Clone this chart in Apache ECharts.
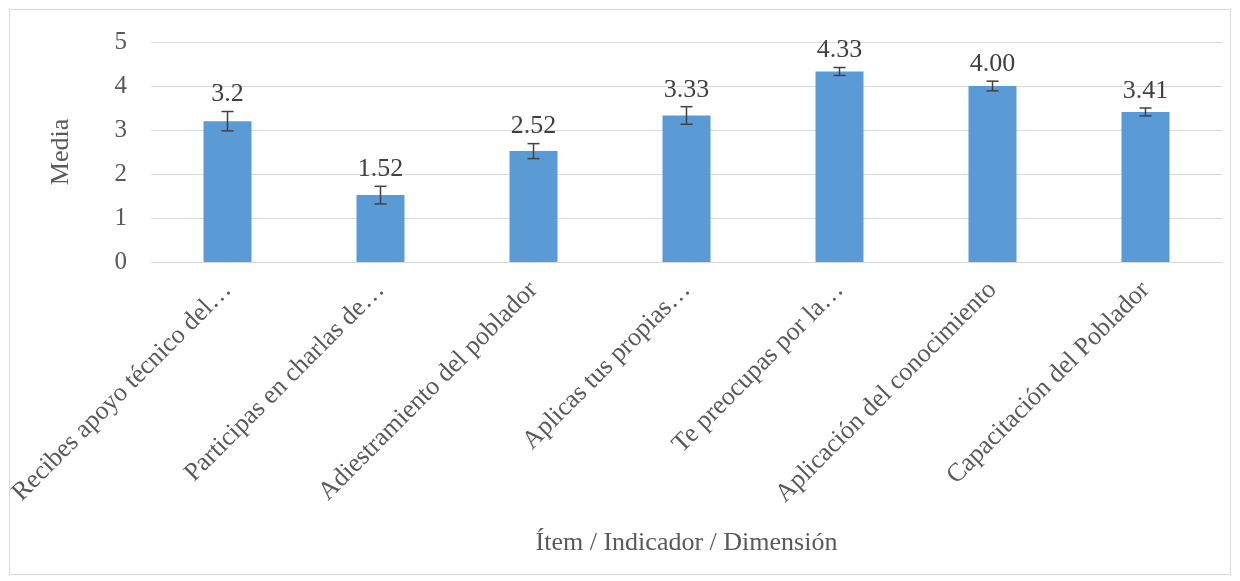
<!DOCTYPE html>
<html>
<head>
<meta charset="utf-8">
<script src="https://cdn.jsdelivr.net/npm/echarts@6/dist/echarts.min.js"></script>
<style>
  html, body { margin: 0; padding: 0; background: #fff; }
  #frame { position: absolute; left: 9px; top: 9px; width: 1222px; height: 566px; border: 1px solid #d9d9d9; box-sizing: border-box; }
  #chart { position: absolute; left: 0; top: 0; width: 1240px; height: 581px; }
</style>
</head>
<body>
<div id="frame"></div>
<div id="chart"></div>
<script>
// categories (truncated as in the original)
const categories = [
  'Recibes apoyo técnico del…',
  'Participas en charlas de…',
  'Adiestramiento del poblador',
  'Aplicas tus propias…',
  'Te preocupas por la…',
  'Aplicación del conocimiento',
  'Capacitación del Poblador'
];
const means = [3.2, 1.52, 2.52, 3.33, 4.33, 4.00, 3.41];
const meanLabels = ['3.2', '1.52', '2.52', '3.33', '4.33', '4.00', '3.41'];
// error bar half-widths
const errors = [0.22, 0.2, 0.17, 0.2, 0.09, 0.11, 0.09];
const yTicks = [0, 1, 2, 3, 4, 5];

const FONT = '"Liberation Serif", "Times New Roman", serif';

const errData = means.map((m, i) => [i, m - errors[i], m + errors[i]]);

const chart = echarts.init(document.getElementById('chart'));
chart.setOption({
  backgroundColor: 'transparent',
  animation: false,
  grid: { left: 151, right: 18, top: 42, bottom: 319 },
  xAxis: {
    type: 'category',
    data: categories,
    name: 'Ítem / Indicador / Dimensión',
    nameLocation: 'middle',
    nameGap: 268,
    nameTextStyle: { fontFamily: FONT, fontSize: 26, color: '#595959' },
    axisLine: { lineStyle: { color: '#d9d9d9', width: 1 } },
    axisTick: { show: false },
    axisLabel: { rotate: 45, interval: 0, margin: 24, fontFamily: FONT, fontSize: 26, color: '#595959' }
  },
  yAxis: {
    type: 'value',
    min: yTicks[0], max: yTicks[yTicks.length - 1], interval: 1,
    name: 'Media',
    nameLocation: 'middle',
    nameGap: 77,
    nameRotate: 90,
    nameTextStyle: { fontFamily: FONT, fontSize: 26, color: '#595959' },
    axisLine: { show: false },
    axisTick: { show: false },
    axisLabel: { margin: 24, fontFamily: FONT, fontSize: 25, color: '#595959' },
    splitLine: { lineStyle: { color: '#d9d9d9', width: 1 } }
  },
  series: [
    {
      type: 'bar',
      data: means,
      barWidth: 48,
      itemStyle: { color: '#5b9bd5' }
    },
    {
      type: 'custom',
      data: errData,
      z: 10,
      renderItem: (params, api) => {
        const x = api.value(0);
        const lo = api.coord([x, api.value(1)]);
        const hi = api.coord([x, api.value(2)]);
        const cap = 6;
        const style = { stroke: '#404040', lineWidth: 1.5 };
        return {
          type: 'group',
          children: [
            { type: 'line', shape: { x1: lo[0], y1: lo[1], x2: hi[0], y2: hi[1] }, style },
            { type: 'line', shape: { x1: lo[0] - cap, y1: lo[1], x2: lo[0] + cap, y2: lo[1] }, style },
            { type: 'line', shape: { x1: hi[0] - cap, y1: hi[1], x2: hi[0] + cap, y2: hi[1] }, style },
            {
              type: 'text',
              style: {
                x: hi[0], y: hi[1] - 4,
                text: meanLabels[params.dataIndex],
                align: 'center', verticalAlign: 'bottom',
                font: '26px ' + FONT,
                fill: '#404040'
              }
            }
          ]
        };
      }
    }
  ]
});
</script>
</body>
</html>
